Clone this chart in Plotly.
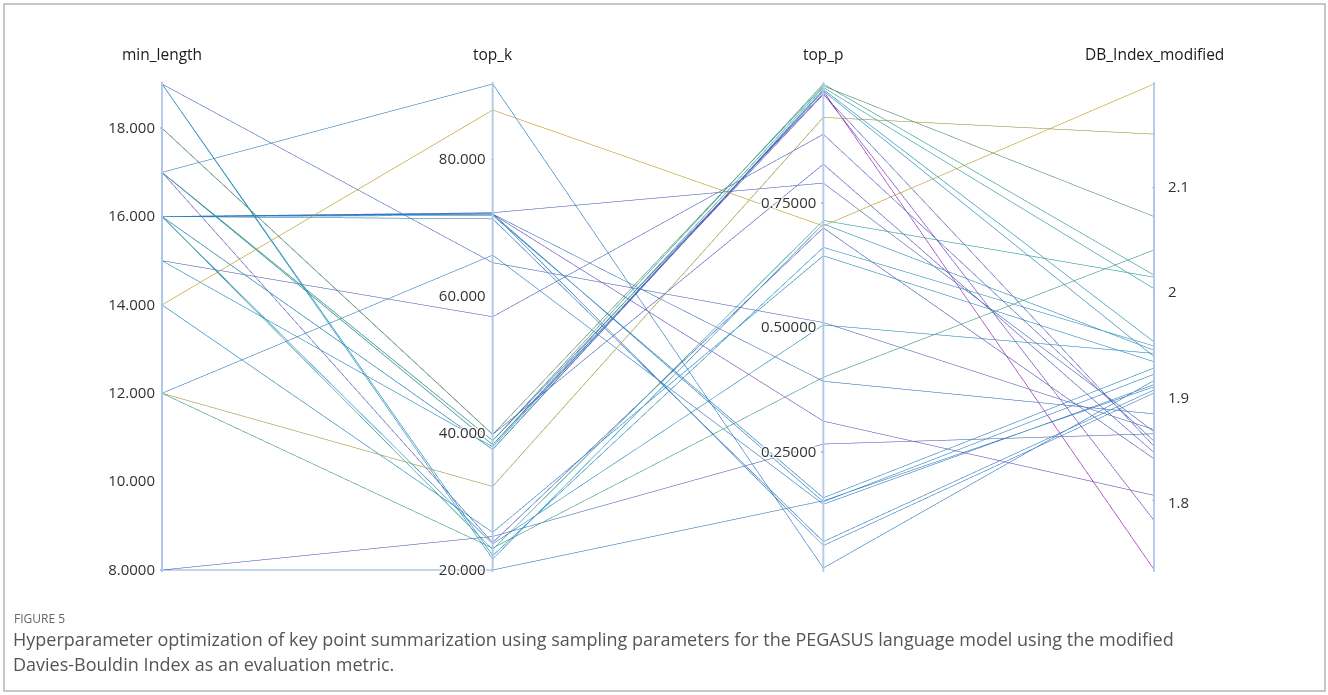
import plotly.graph_objects as go

# ---------------- data ----------------
min_length = [16, 17, 17, 18,
              14, 12, 18, 12, 17, 16, 17, 16, 19, 15,
              19, 14, 16, 16, 16, 12, 16, 16, 8, 17,
              16, 16, 19, 8, 15, 17, 16]
top_k = [37.6, 38.9, 38.3, 39.8,
         87.2, 32.2, 39.8, 23.2, 38.9, 23.0, 38.3, 37.6, 21.6, 38.0,
         22.1, 25.5, 23.8, 71.8, 72.0, 66.0, 71.3, 72.1, 20.0, 91.0,
         72.0, 72.2, 64.9, 24.9, 57.0, 24.0, 72.0]
top_p = [0.975, 0.970, 0.968, 0.828,
         0.704, 0.922, 0.985, 0.400, 0.989, 0.715, 0.982, 0.978, 0.708, 0.975,
         0.661, 0.644, 0.505, 0.158, 0.150, 0.145, 0.070, 0.062, 0.152, 0.017,
         0.392, 0.790, 0.510, 0.266, 0.888, 0.700, 0.312]
db_index = [1.734, 1.781, 1.852, 1.846,
            2.199, 2.151, 2.072, 2.040, 2.016, 2.014, 2.003, 1.952, 1.944, 1.938,
            1.948, 1.933, 1.941, 1.927, 1.921, 1.911, 1.906, 1.903, 1.909, 1.915,
            1.883, 1.866, 1.868, 1.864, 1.857, 1.840, 1.805]

labels = ["min_length", "top_k", "top_p", "DB_Index_modified"]

ml_ticks = [8, 10, 12, 14, 16, 18]
ml_text = ["8.0000", "10.000", "12.000", "14.000", "16.000", "18.000"]
tk_ticks = [20, 40, 60, 80]
tk_text = ["20.000", "40.000", "60.000", "80.000"]
tp_ticks = [0.25, 0.5, 0.75]
tp_text = ["0.25000", "0.50000", "0.75000"]
db_ticks = [1.8, 1.9, 2.0, 2.1]
db_text = ["1.8", "1.9", "2", "2.1"]

ml_range = [8, 19]
tk_range = [20, 91]
tp_range = [0.013, 0.989]
db_range = [1.7335, 2.199]

colorscale = [
    [0.00, "rgb(155,25,185)"],
    [0.10, "rgb(120,60,195)"],
    [0.25, "rgb(80,90,195)"],
    [0.40, "rgb(30,130,200)"],
    [0.50, "rgb(20,158,195)"],
    [0.60, "rgb(30,160,155)"],
    [0.68, "rgb(55,155,120)"],
    [0.75, "rgb(80,135,95)"],
    [0.90, "rgb(155,158,45)"],
    [1.00, "rgb(200,158,15)"],
]

# ---------------- geometry ----------------
W, H = 1328, 695
L, R, T, B = 162, 174, 82, 123
PW = W - L - R
PH = H - T - B


def px(x):
    return (x - L) / PW


def py(y):
    return (H - B - y) / PH


FONT = "Open Sans, sans-serif"

fig = go.Figure(go.Parcoords(
    line=dict(color=db_index, colorscale=colorscale,
              cmin=min(db_index), cmax=max(db_index), showscale=False),
    dimensions=[
        dict(label="", values=min_length, range=ml_range,
             tickvals=ml_ticks, ticktext=ml_text),
        dict(label="", values=top_k, range=tk_range,
             tickvals=tk_ticks, ticktext=tk_text),
        dict(label="", values=top_p, range=tp_range,
             tickvals=tp_ticks, ticktext=tp_text),
        dict(label="", values=db_index, range=db_range,
             tickvals=db_ticks, ticktext=["" for _ in db_ticks]),
    ],
    labelfont=dict(family=FONT, size=15, color="#222"),
    tickfont=dict(family=FONT, size=15, color="#333"),
))

shapes = []
for i in range(4):
    shapes.append(dict(type="line", xref="paper", yref="paper",
                       x0=i / 3, x1=i / 3, y0=0, y1=1,
                       line=dict(color="rgba(175,198,235,0.9)", width=2)))
shapes.append(dict(type="rect", xref="paper", yref="paper",
                   x0=px(4), x1=px(1325), y0=py(691), y1=py(4),
                   line=dict(color="#b5b5b5", width=1.5)))

annotations = []
for i, lab in enumerate(labels):
    annotations.append(dict(x=i / 3, y=py(54), xref="paper", yref="paper",
                            text=lab, showarrow=False, xanchor="center", yanchor="middle",
                            font=dict(family=FONT, size=15.5, color="#1a1a1a")))
for v, t in zip(db_ticks, db_text):
    frac = (v - db_range[0]) / (db_range[1] - db_range[0])
    annotations.append(dict(x=1, y=frac, xref="paper", yref="paper",
                            text=t, showarrow=False, xanchor="left",
                            yanchor="middle", xshift=12,
                            font=dict(family=FONT, size=15, color="#333")))

annotations.append(dict(x=px(12), y=py(618), xref="paper", yref="paper",
                        text="FIGURE 5", showarrow=False, xanchor="left", yanchor="middle",
                        font=dict(family=FONT, size=12, color="#666")))
annotations.append(dict(x=px(11), y=py(639), xref="paper", yref="paper",
                        text="Hyperparameter optimization of key point summarization using sampling parameters for the PEGASUS language model using the modified",
                        showarrow=False, xanchor="left", yanchor="middle",
                        font=dict(family=FONT, size=18, color="#555")))
annotations.append(dict(x=px(11), y=py(664), xref="paper", yref="paper",
                        text="Davies-Bouldin Index as an evaluation metric.",
                        showarrow=False, xanchor="left", yanchor="middle",
                        font=dict(family=FONT, size=18, color="#555")))

fig.update_layout(
    width=W, height=H,
    margin=dict(l=L, r=R, t=T, b=B),
    paper_bgcolor="white", plot_bgcolor="white",
    shapes=shapes, annotations=annotations,
    font=dict(family=FONT),
)

post = """
var gd = document.getElementById('{plot_id}');
function fixAxes(){
  gd.querySelectorAll('.axis .domain').forEach(function(e){
    e.style.stroke='rgb(175,198,235)'; e.style.strokeOpacity='1'; e.style.strokeWidth='1.5px';
  });
  gd.querySelectorAll('.axis .tick line').forEach(function(e){ e.style.strokeOpacity='0'; });
}
fixAxes(); setTimeout(fixAxes, 50); setTimeout(fixAxes, 300);
"""

fig.write_html("out.html", post_script=post)
